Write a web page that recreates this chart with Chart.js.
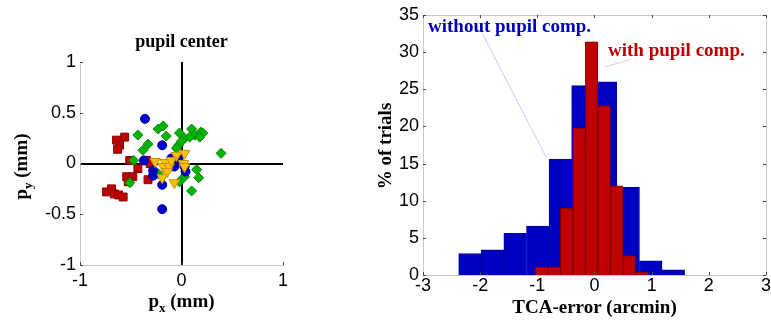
<!DOCTYPE html>
<html>
<head>
    <meta charset="utf-8" />
    <title>Pupil center and TCA-error</title>
    <script src="https://cdn.jsdelivr.net/npm/chart.js"></script>
    <style>
        body { margin: 0; background: #fff; }
        #wrap { position: relative; width: 771px; height: 327px; }
        #pupilChart { position: absolute; left: 0; top: 0; }
        #tcaChart { position: absolute; left: 360px; top: 0; }
    </style>
</head>
<body>
    <div id="wrap">
        <canvas id="pupilChart" width="300" height="327"></canvas>
        <canvas id="tcaChart" width="411" height="327"></canvas>
    </div>
    <script>
        // pupil center offsets (mm), one pair of lists per marker group
        const redX = [-0.64, -0.56, -0.61, -0.63, -0.51, -0.43, -0.345, -0.31, -0.33, -0.54, -0.48, -0.525, -0.74, -0.69, -0.66, -0.62, -0.575];
        const redY = [0.23, 0.26, 0.18, 0.14, 0.03, -0.05, 0.03, 0.00, -0.16, -0.13, -0.13, -0.18, -0.28, -0.25, -0.30, -0.31, -0.33];
        const greenX = [-0.43, -0.23, -0.18, -0.15, -0.38, -0.33, -0.47, -0.51, -0.02, 0.03, -0.03, 0.00, -0.05, 0.10, 0.13, 0.08, 0.19, 0.21, 0.18, 0.39, 0.15, 0.17, 0.10, -0.02, 0.03, -0.23, -0.12, 0.03];
        const greenY = [0.28, 0.34, 0.37, 0.27, 0.13, 0.19, 0.03, -0.19, 0.30, 0.25, 0.18, 0.22, 0.15, 0.34, 0.28, 0.26, 0.31, 0.30, 0.26, 0.10, -0.06, -0.14, -0.27, -0.18, -0.13, -0.10, 0.00, -0.03];
        const blueX = [-0.36, -0.19, -0.37, -0.28, -0.28, -0.19, -0.19, -0.07, -0.03, 0.03, 0.04, -0.10];
        const blueY = [0.44, 0.18, 0.03, -0.07, -0.12, -0.21, -0.45, -0.03, 0.04, -0.03, -0.08, 0.05];
        const navyTriX = [-0.04];
        const navyTriY = [0.03];
        const yellowX = [-0.26, -0.16, -0.18, -0.12, -0.14, -0.19, -0.07, -0.05, 0.03, 0.02, 0.03, -0.10];
        const yellowY = [0.02, 0.01, -0.03, -0.03, -0.08, -0.14, -0.19, 0.08, 0.10, 0.00, -0.03, 0.03];
        const pupilTicksX = [-1, 0, 1];
        const pupilTicksY = [-1, -0.5, 0, 0.5, 1];

        // TCA-error histograms: bin centres (arcmin) and % of trials
        const withoutCenters = [-2.178, -1.783, -1.388, -0.992, -0.597, -0.202, 0.193, 0.589, 0.984, 1.379];
        const withoutPct = [2.9, 3.4, 5.6, 6.6, 15.6, 25.5, 26.0, 11.8, 1.9, 0.7];
        const withCenters = [-0.926, -0.707, -0.488, -0.269, -0.050, 0.169, 0.388, 0.607, 0.826];
        const withPct = [1.1, 1.1, 9.0, 19.8, 31.4, 22.8, 12.0, 2.6, 0.4];
        const tcaTicksX = [-3, -2, -1, 0, 1, 2, 3];
        const tcaTicksY = [0, 5, 10, 15, 20, 25, 30, 35];

        const tickFont = { family: 'Liberation Sans', size: 18 };
        const labelFont = 'bold 19px "Liberation Serif"';

        function pts(xs, ys) {
            return xs.map((x, i) => ({ x: x, y: ys[i] }));
        }

        function line(ctx, x1, y1, x2, y2) {
            ctx.beginPath();
            ctx.moveTo(x1, y1);
            ctx.lineTo(x2, y2);
            ctx.stroke();
        }

        // text with a subscript, e.g. p_x (mm)
        function subText(ctx, main, sub, rest, x, y) {
            ctx.font = labelFont;
            const w1 = ctx.measureText(main).width;
            const w3 = ctx.measureText(rest).width;
            ctx.font = 'bold 13px "Liberation Serif"';
            const w2 = ctx.measureText(sub).width;
            let left = x - (w1 + w2 + w3) / 2;
            ctx.textAlign = 'left';
            ctx.font = labelFont;
            ctx.fillText(main, left, y);
            ctx.font = 'bold 13px "Liberation Serif"';
            ctx.fillText(sub, left + w1, y + 5);
            ctx.font = labelFont;
            ctx.fillText(rest, left + w1 + w2, y);
        }

        const pupilDecor = {
            id: 'pupilDecor',
            afterDraw(chart) {
                const { ctx, chartArea: a, scales: { x, y } } = chart;
                ctx.save();
                ctx.strokeStyle = '#444';
                ctx.lineWidth = 1;
                y.ticks.forEach(t => {
                    const py = Math.round(y.getPixelForValue(t.value)) + 0.5;
                    line(ctx, a.left, py, a.left + 3, py);
                });
                x.ticks.forEach(t => {
                    const px = Math.round(x.getPixelForValue(t.value)) + 0.5;
                    line(ctx, px, a.bottom, px, a.bottom - 3);
                });
                ctx.fillStyle = '#000';
                ctx.font = 'bold 18px "Liberation Serif"';
                ctx.textAlign = 'center';
                ctx.fillText('pupil center', (a.left + a.right) / 2, 47);
                subText(ctx, 'p', 'x', ' (mm)', (a.left + a.right) / 2, 307);
                ctx.translate(27, (a.top + a.bottom) / 2 + 3);
                ctx.rotate(-Math.PI / 2);
                subText(ctx, 'p', 'y', ' (mm)', 0, 0);
                ctx.restore();
            }
        };

        new Chart(document.getElementById('pupilChart'), {
            type: 'scatter',
            data: {
                datasets: [
                    { data: pts(yellowX, yellowY), pointStyle: 'triangle', rotation: 180, radius: 6, backgroundColor: '#ffc000', borderColor: '#c89000', borderWidth: 1, order: 1 },
                    { data: pts(navyTriX, navyTriY), pointStyle: 'triangle', radius: 6, backgroundColor: '#0000c8', borderColor: '#000090', borderWidth: 1, order: 2 },
                    { data: pts(blueX, blueY), pointStyle: 'circle', radius: 4.5, backgroundColor: '#0000c8', borderColor: '#0000a0', borderWidth: 1, order: 3 },
                    { data: pts(greenX, greenY), pointStyle: 'rectRot', radius: 5, backgroundColor: '#00b400', borderColor: '#008a00', borderWidth: 1, order: 4 },
                    { data: pts(redX, redY), pointStyle: 'rect', radius: 5.6, backgroundColor: '#c00000', borderColor: '#900000', borderWidth: 1, order: 5 }
                ]
            },
            options: {
                responsive: false,
                animation: false,
                layout: { padding: { top: 62, right: 17, bottom: 0, left: 0 } },
                plugins: { legend: { display: false }, tooltip: { enabled: false } },
                scales: {
                    x: {
                        type: 'linear', min: -1, max: 1,
                        afterBuildTicks: s => { s.ticks = pupilTicksX.map(v => ({ value: v })); },
                        afterFit: s => { s.height = 62; },
                        grid: { drawTicks: false, lineWidth: 2, color: c => c.tick && c.tick.value === 0 ? '#000' : 'rgba(0,0,0,0)' },
                        border: { display: true, color: '#c8c8c8', width: 1 },
                        ticks: { padding: 5, color: '#000', font: tickFont, maxRotation: 0, autoSkip: false, callback: v => String(v) }
                    },
                    y: {
                        type: 'linear', min: -1, max: 1,
                        afterBuildTicks: s => { s.ticks = pupilTicksY.map(v => ({ value: v })); },
                        afterFit: s => { s.width = 80; },
                        grid: { drawTicks: false, lineWidth: 2, color: c => c.tick && c.tick.value === 0 ? '#000' : 'rgba(0,0,0,0)' },
                        border: { display: true, color: '#c8c8c8', width: 1 },
                        ticks: { padding: 4, color: '#000', font: tickFont, autoSkip: false, callback: v => String(v) }
                    }
                }
            },
            plugins: [pupilDecor]
        });

        const tcaDecor = {
            id: 'tcaDecor',
            afterDraw(chart) {
                const { ctx, chartArea: a, scales: { x, y } } = chart;
                ctx.save();
                ctx.strokeStyle = '#c8c8c8';
                ctx.lineWidth = 1;
                ctx.strokeRect(Math.round(a.left) + 0.5, Math.round(a.top) + 0.5, Math.round(a.right - a.left), Math.round(a.bottom - a.top));
                ctx.strokeStyle = '#444';
                y.ticks.forEach(t => {
                    const py = Math.round(y.getPixelForValue(t.value)) + 0.5;
                    line(ctx, a.left, py, a.left + 3, py);
                    line(ctx, a.right, py, a.right - 3, py);
                });
                x.ticks.forEach(t => {
                    const px = Math.round(x.getPixelForValue(t.value)) + 0.5;
                    line(ctx, px, a.bottom, px, a.bottom - 3);
                    line(ctx, px, a.top, px, a.top + 3);
                });
                // leader lines from the labels to the bars
                ctx.strokeStyle = '#c8c8ff';
                line(ctx, x.getPixelForValue(-1.97), y.getPixelForValue(32.6), x.getPixelForValue(-0.84), y.getPixelForValue(15.8));
                ctx.strokeStyle = '#f4c0c0';
                line(ctx, x.getPixelForValue(0.18), y.getPixelForValue(28.0), x.getPixelForValue(0.63), y.getPixelForValue(29.0));
                ctx.font = labelFont;
                ctx.textAlign = 'left';
                ctx.fillStyle = '#0000c0';
                ctx.fillText('without pupil comp.', a.left + 5, 32);
                ctx.fillStyle = '#c00000';
                ctx.fillText('with pupil comp.', a.left + 185, 56);
                ctx.fillStyle = '#000';
                ctx.textAlign = 'center';
                ctx.fillText('TCA-error (arcmin)', (a.left + a.right) / 2, 313);
                ctx.translate(31, (a.top + a.bottom) / 2 + 1);
                ctx.rotate(-Math.PI / 2);
                ctx.fillText('% of trials', 0, 0);
                ctx.restore();
            }
        };

        new Chart(document.getElementById('tcaChart'), {
            type: 'bar',
            data: {
                datasets: [
                    {
                        label: 'with pupil comp.', data: pts(withCenters, withPct), xAxisID: 'x',
                        backgroundColor: '#c00000', borderColor: '#7a0000', borderWidth: 1, borderSkipped: 'start',
                        grouped: false, categoryPercentage: 1, barPercentage: 1, order: 1
                    },
                    {
                        label: 'without pupil comp.', data: pts(withoutCenters, withoutPct), xAxisID: 'xb',
                        backgroundColor: '#0000c0', borderColor: '#0000a0', borderWidth: 1, borderSkipped: 'start',
                        grouped: false, categoryPercentage: 1, barPercentage: 1, order: 2
                    }
                ]
            },
            options: {
                responsive: false,
                animation: false,
                layout: { padding: { top: 15, right: 5, bottom: 0, left: 0 } },
                plugins: { legend: { display: false }, tooltip: { enabled: false } },
                scales: {
                    x: {
                        type: 'linear', min: -3, max: 3, offset: false,
                        afterBuildTicks: s => { s.ticks = tcaTicksX.map(v => ({ value: v })); },
                        afterFit: s => { s.height = 52; },
                        grid: { display: false, drawTicks: false },
                        border: { display: false },
                        ticks: { padding: 0, color: '#000', font: tickFont, maxRotation: 0, autoSkip: false, callback: v => String(v) }
                    },
                    xb: {
                        type: 'linear', min: -3, max: 3, offset: false, display: false,
                        ticks: { stepSize: 1 }
                    },
                    y: {
                        type: 'linear', min: 0, max: 35,
                        afterBuildTicks: s => { s.ticks = tcaTicksY.map(v => ({ value: v })); },
                        afterFit: s => { s.width = 63; },
                        grid: { display: false, drawTicks: false },
                        border: { display: false },
                        ticks: { padding: 4, color: '#000', font: tickFont, autoSkip: false, callback: v => String(v) }
                    }
                }
            },
            plugins: [tcaDecor]
        });
    </script>
</body>
</html>
